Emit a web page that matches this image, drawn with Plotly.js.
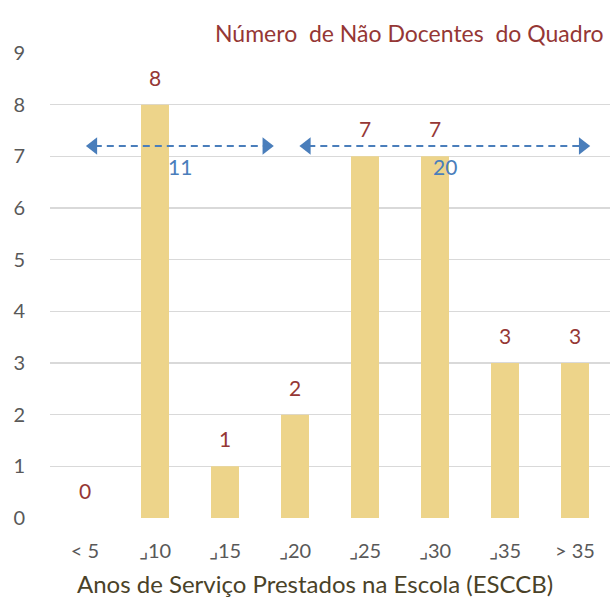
<!DOCTYPE html>
<html><head><meta charset="utf-8">
<script src="https://cdn.plot.ly/plotly-3.0.1.min.js"></script>
<style>body{margin:0;background:#fff}#c{width:611px;height:601px}</style>
</head><body><div id="c"></div>
<script>
const categories = ['< 5', '\u231F10', '\u231F15', '\u231F20', '\u231F25', '\u231F30', '\u231F35', '> 35'];
const counts = [0, 8, 1, 2, 7, 7, 3, 3];
const groupTotals = [11, 20];
const arrowLevel = 7.2;
const arrowSpans = [[0.02, 2.69], [3.07, 7.21]];
const totalLabelPos = [[1.36, 6.8], [5.14, 6.8]];

const red = '#953735';
const blue = '#4a7ebb';
const font = 'Lato, "Open Sans", sans-serif';

const idx = categories.map((_, i) => i);
const annotations = [];
counts.forEach((v, i) => annotations.push({
  x: i, y: v, xref: 'x', yref: 'y', text: String(v), showarrow: false,
  yanchor: 'bottom', yshift: 13, font: {family: font, size: 21, color: red}
}));
groupTotals.forEach((t, i) => annotations.push({
  x: totalLabelPos[i][0], y: totalLabelPos[i][1], xref: 'x', yref: 'y', text: String(t), showarrow: false,
  font: {family: font, size: 21, color: blue}
}));
annotations.push({xref: 'paper', yref: 'paper', x: 1, y: 1, xanchor: 'right', yanchor: 'bottom', yshift: 4, xshift: -4,
  text: 'Número  de Não Docentes  do Quadro', showarrow: false, font: {family: font, size: 23, color: red}});
annotations.push({xref: 'paper', yref: 'paper', x: 0.473, y: 0, xanchor: 'center', yanchor: 'middle', yshift: -65,
  text: 'Anos de Serviço Prestados na Escola (ESCCB)', showarrow: false, font: {family: font, size: 24, color: '#4a4228'}});

const lineTraces = arrowSpans.map(([a, b]) => ({
  type: 'scatter', mode: 'lines', x: [a + 0.12, b - 0.12], y: [arrowLevel, arrowLevel],
  line: {color: blue, width: 1.8, dash: '7px,5px'}, hoverinfo: 'none'
}));
const headL = {type: 'scatter', mode: 'markers', x: arrowSpans.map(s => s[0] + 0.1), y: arrowSpans.map(() => arrowLevel),
  marker: {symbol: 'triangle-left', size: 15, color: blue}, hoverinfo: 'none'};
const headR = {type: 'scatter', mode: 'markers', x: arrowSpans.map(s => s[1] - 0.1), y: arrowSpans.map(() => arrowLevel),
  marker: {symbol: 'triangle-right', size: 15, color: blue}, hoverinfo: 'none'};

Plotly.newPlot('c', [{
  type: 'bar', x: idx, y: counts, width: 0.4, marker: {color: '#edd48a'}, hoverinfo: 'none'
}, ...lineTraces, headL, headR], {
  width: 611, height: 601,
  margin: {l: 50, r: 1, t: 53, b: 83},
  paper_bgcolor: '#fff', plot_bgcolor: '#fff',
  showlegend: false,
  xaxis: {tickmode: 'array', tickvals: idx, ticktext: categories, range: [-0.5, 7.5],
    showgrid: false, zeroline: false, showline: false, ticks: '', ticklabelstandoff: 19,
    tickfont: {family: font, size: 20, color: '#595959'}},
  yaxis: {range: [0, 9], dtick: 1, showgrid: true, gridcolor: '#d9d9d9', gridwidth: 1.3, zeroline: false, showline: false,
    ticks: '', ticklabelstandoff: 24, tickfont: {family: font, size: 20, color: '#595959'}},
  annotations: annotations
}, {displayModeBar: false, staticPlot: true});
</script></body></html>
